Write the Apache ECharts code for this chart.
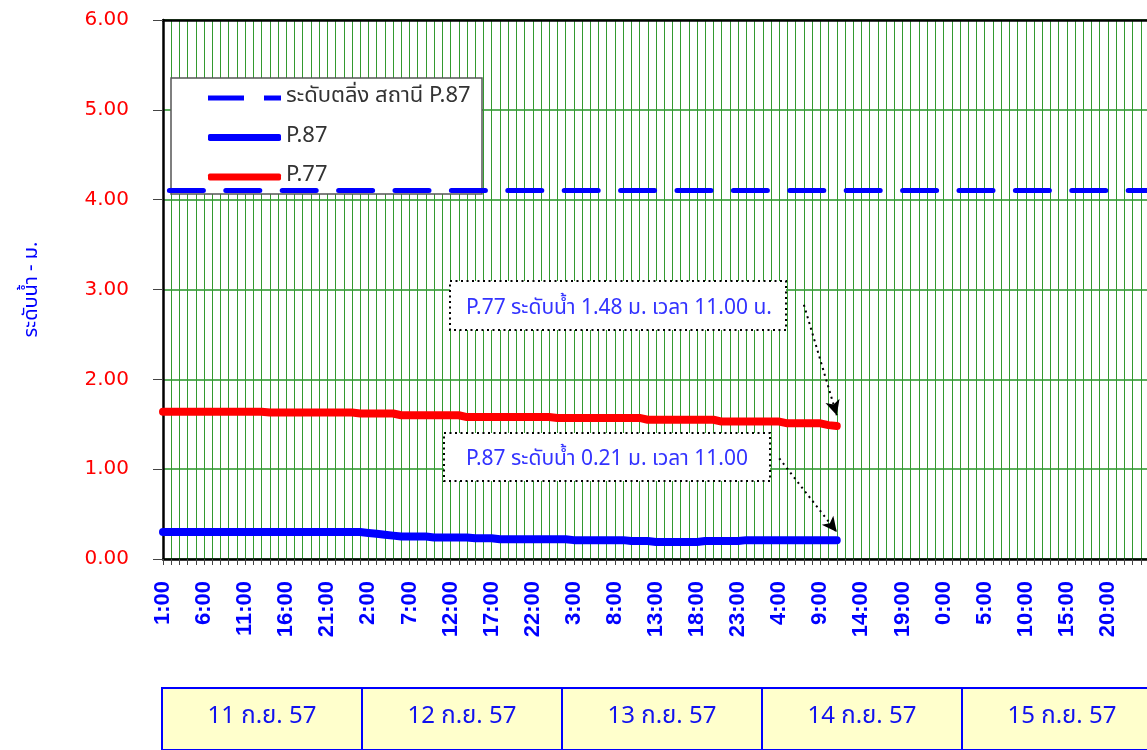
<!DOCTYPE html>
<html>
<head>
<meta charset="utf-8">
<script src="https://cdn.jsdelivr.net/npm/echarts@6/dist/echarts.min.js"></script>
<style>html,body{margin:0;padding:0;background:#fff;overflow:hidden;}#c{width:1147px;height:750px;}</style>
</head>
<body>
<div id="c"></div>
<script>
// ---- data ----
var dayLabels = ['11 ก.ย. 57', '12 ก.ย. 57', '13 ก.ย. 57', '14 ก.ย. 57', '15 ก.ย. 57'];
var hoursPerDay = ['1:00','2:00','3:00','4:00','5:00','6:00','7:00','8:00','9:00','10:00','11:00','12:00',
  '13:00','14:00','15:00','16:00','17:00','18:00','19:00','20:00','21:00','22:00','23:00','0:00'];
var yTicks = [0, 1, 2, 3, 4, 5, 6];
var bankLevel = 4.10;
var p77 = [1.64,1.64,1.64,1.64,1.64,1.64,1.64,1.64,1.64,1.64,1.64,1.64,1.64,
  1.63,1.63,1.63,1.63,1.63,1.63,1.63,1.63,1.63,1.63,1.63,
  1.62,1.62,1.62,1.62,1.62,
  1.60,1.60,1.60,1.60,1.60,1.60,1.60,1.60,
  1.58,1.58,1.58,1.58,1.58,1.58,1.58,1.58,1.58,1.58,1.58,
  1.57,1.57,1.57,1.57,1.57,1.57,1.57,1.57,1.57,1.57,1.57,
  1.55,1.55,1.55,1.55,1.55,1.55,1.55,1.55,1.55,
  1.53,1.53,1.53,1.53,1.53,1.53,1.53,1.53,
  1.51,1.51,1.51,1.51,1.51,
  1.49,1.48];
var p87 = [0.30,0.30,0.30,0.30,0.30,0.30,0.30,0.30,0.30,0.30,0.30,0.30,0.30,0.30,0.30,0.30,0.30,0.30,0.30,0.30,0.30,0.30,0.30,0.30,0.30,
  0.29,0.28,0.27,0.26,
  0.25,0.25,0.25,0.25,
  0.24,0.24,0.24,0.24,0.24,
  0.23,0.23,0.23,
  0.22,0.22,0.22,0.22,0.22,0.22,0.22,0.22,0.22,
  0.21,0.21,0.21,0.21,0.21,0.21,0.21,
  0.20,0.20,0.20,
  0.19,0.19,0.19,0.19,0.19,0.19,
  0.20,0.20,0.20,0.20,0.20,
  0.21,0.21,0.21,0.21,0.21,0.21,0.21,0.21,0.21,0.21,0.21,0.21];
var note77 = 'P.77 ระดับน้ำ 1.48 ม. เวลา 11.00 น.';
var note87 = 'P.87 ระดับน้ำ 0.21 ม. เวลา 11.00';
var seriesNames = ['ระดับตลิ่ง สถานี P.87', 'P.87', 'P.77'];

// categories: hourly, 11 Sep 1:00 .. 16 Sep 1:00
var times = [];
for (var d = 0; d < 5; d++) for (var h = 0; h < 24; h++) times.push(hoursPerDay[h]);
times.push(hoursPerDay[0]);

var FONT = 'Tahoma, "Noto Sans Thai", "DejaVu Sans", sans-serif';
var chart = echarts.init(document.getElementById('c'));

var graphics = [
  {type:'rect', z:3, shape:{x:171,y:78,width:311,height:116}, style:{fill:'#fff',stroke:'#555',lineWidth:1.5}},
  {type:'rect', z:3, shape:{x:450,y:281,width:336,height:49}, style:{fill:'#fff',stroke:'#000',lineWidth:2,lineDash:[2,3.5]}},
  {type:'text', z:4, x:619, y:310, style:{text:note77, fill:'#3333ff', font:'21px ' + FONT, align:'center', verticalAlign:'middle'}},
  {type:'rect', z:3, shape:{x:444,y:433,width:326,height:48}, style:{fill:'#fff',stroke:'#000',lineWidth:2,lineDash:[2,3.5]}},
  {type:'text', z:4, x:607, y:461, style:{text:note87, fill:'#3333ff', font:'21px ' + FONT, align:'center', verticalAlign:'middle'}}
];
for (var i = 0; i < dayLabels.length; i++) {
  graphics.push({type:'rect', shape:{x:162 + 200*i, y:688, width:200, height:62}, style:{fill:'#ffffcc', stroke:'#0000ff', lineWidth:2}});
  graphics.push({type:'text', x:262 + 200*i, y:718, style:{text:dayLabels[i], fill:'#1111ee', font:'24px ' + FONT, align:'center', verticalAlign:'middle'}});
}

chart.setOption({
  animation: false,
  backgroundColor: '#fff',
  textStyle: {fontFamily: FONT},
  grid: {left:163, top:20, width:986, height:539, containLabel:false, outerBoundsMode:'none'},
  legend: {
    orient:'vertical', left:203, top:81, itemWidth:73, itemHeight:7, itemGap:15.5,
    textStyle:{color:'#333', fontSize:22, lineHeight:24, fontFamily:FONT},
    data:[
      {name:seriesNames[0], icon:'path://M0,0h36v5h-36z M56,0h17v5h-17z'},
      {name:seriesNames[1], icon:'roundRect'},
      {name:seriesNames[2], icon:'roundRect'}
    ]
  },
  xAxis: [{
    type:'category', data:times, boundaryGap:false,
    axisLine:{show:true, lineStyle:{color:'#000', width:2.5}},
    axisTick:{show:true, interval:0, length:6, lineStyle:{color:'#444'}},
    axisLabel:{interval:function(idx){return idx % 5 === 0 && idx < times.length - 1;}, rotate:90, color:'#0000ff', fontSize:22,
      fontWeight:'bold', fontFamily:'Arial, "Liberation Sans", sans-serif', margin:22},
    splitLine:{show:true, interval:0, lineStyle:{color:'#33992f', width:1}}
  },{
    type:'category', data:times, boundaryGap:false, position:'top',
    axisLine:{show:true, lineStyle:{color:'#000', width:2.5}},
    axisTick:{show:false}, axisLabel:{show:false}, splitLine:{show:false}
  }],
  yAxis: {
    type:'value', min:yTicks[0], max:yTicks[yTicks.length-1], interval:1,
    name:'ระดับน้ำ - ม.', nameLocation:'middle', nameGap:120,
    nameTextStyle:{color:'#0000ff', fontSize:20, fontFamily:FONT},
    axisLine:{show:true, lineStyle:{color:'#000', width:2.5}},
    axisTick:{show:true, length:10, lineStyle:{color:'#444'}},
    axisLabel:{color:'#ff0000', fontSize:20, fontFamily:'"DejaVu Sans", sans-serif', margin:34, formatter:function(v){return v.toFixed(2);}},
    splitLine:{show:true, lineStyle:{color:'#5cae5c', width:2}}
  },
  series: [
    {name:seriesNames[0], type:'line', data:[], symbol:'none',
      lineStyle:{color:'#0000ff', width:5, type:[34,22.4], cap:'round'},
      itemStyle:{color:'#0000ff'},
      markLine:{silent:true, symbol:'none', label:{show:false},
        lineStyle:{color:'#0000ff', width:5, type:[34,22.4], cap:'round', dashOffset:50},
        data:[{yAxis:bankLevel}]}
    },
    {name:seriesNames[1], type:'line', data:p87, symbol:'none', showSymbol:false,
      lineStyle:{color:'#0000ff', width:8, cap:'round', join:'round'}, itemStyle:{color:'#0000ff'},
      markLine:{silent:true, symbol:['none','arrow'], symbolSize:[11,15], label:{show:false},
        lineStyle:{color:'#000', width:2, type:[2,4]},
        data:[[{coord:[75, 1.12]}, {coord:[82, 0.30]}]]}
    },
    {name:seriesNames[2], type:'line', data:p77, symbol:'none', showSymbol:false,
      lineStyle:{color:'#ff0000', width:8, cap:'round', join:'round'}, itemStyle:{color:'#ff0000'},
      markLine:{silent:true, symbol:['none','arrow'], symbolSize:[11,15], label:{show:false},
        lineStyle:{color:'#000', width:2, type:[2,4]},
        data:[[{coord:[78, 2.83]}, {coord:[82, 1.60]}]]}
    }
  ],
  graphic: graphics
});
</script>
</body>
</html>
